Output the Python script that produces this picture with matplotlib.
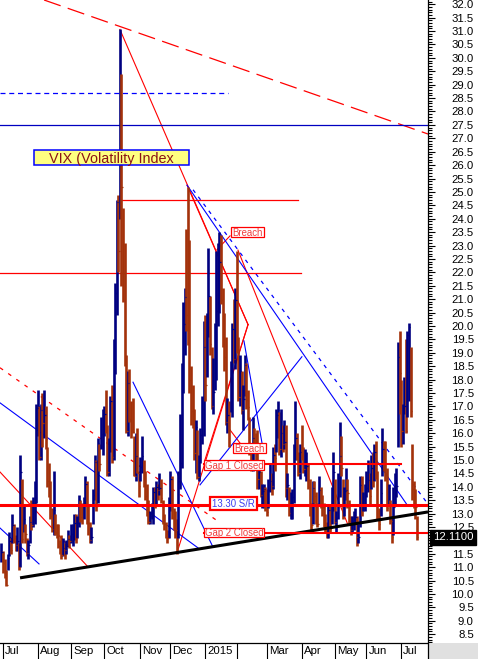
import numpy as np
import matplotlib.pyplot as plt
import matplotlib.transforms as mtransforms
from matplotlib.patches import Rectangle
from matplotlib.lines import Line2D

plt.rcParams['font.family'] = ['Liberation Sans', 'DejaVu Sans']

# daily VIX bars (high, low, close), one list per month
jun14 = [(11.9, 11.2, 11.57)]
jul14 = [(11.6, 10.8, 11.15), (11.3, 10.6, 10.82), (10.9, 10.28, 10.32), (11.5, 10.9, 11.33), (12.3, 11.4, 11.98),
         (12.1, 11.5, 11.65), (13.0, 11.9, 12.59), (12.6, 11.9, 12.08), (12.2, 11.6, 11.82), (12.5, 11.6, 11.96),
         (11.9, 10.9, 11.00), (15.2, 11.0, 14.54), (14.3, 11.9, 12.06), (13.3, 12.3, 12.81), (12.6, 11.9, 12.24),
         (12.1, 11.4, 11.52), (12.0, 11.3, 11.84), (12.9, 11.9, 12.69), (13.5, 12.4, 12.56), (13.6, 12.5, 13.28),
         (14.2, 12.6, 13.33), (17.1, 13.4, 16.95)]
aug14 = [(17.6, 15.9, 17.03), (17.0, 15.0, 15.12), (17.1, 15.0, 16.87), (17.5, 15.5, 16.37), (17.6, 15.8, 16.66),
         (17.0, 15.4, 15.77), (15.5, 14.0, 14.23), (14.9, 13.6, 14.13), (14.2, 12.8, 12.90), (13.2, 12.3, 12.42),
         (14.6, 12.2, 13.15), (13.0, 12.2, 12.32), (12.6, 12.1, 12.21), (12.6, 11.7, 11.78), (12.0, 11.5, 11.76),
         (12.2, 11.3, 11.47), (12.1, 11.4, 11.70), (11.9, 11.3, 11.63), (12.0, 11.5, 11.78), (12.4, 11.8, 12.05),
         (12.2, 11.7, 11.98)]
sep14 = [(12.6, 11.9, 12.25), (12.6, 11.8, 12.36), (13.0, 12.0, 12.64), (13.0, 11.9, 12.09), (12.9, 12.1, 12.66),
         (13.7, 12.5, 13.50), (13.5, 12.7, 12.88), (13.4, 12.6, 12.80), (13.6, 12.8, 13.31), (14.4, 13.3, 14.12),
         (14.2, 12.6, 12.73), (13.3, 12.2, 12.65), (12.7, 11.9, 12.03), (12.5, 11.9, 12.11), (13.9, 12.6, 13.69),
         (15.2, 13.5, 14.93), (15.0, 13.1, 13.27), (15.8, 13.4, 15.64), (15.6, 14.6, 14.85), (16.6, 15.4, 15.98),
         (16.9, 15.2, 16.31)]
oct14 = [(17.0, 15.9, 16.71), (17.6, 16.0, 16.16), (16.3, 14.4, 14.55), (15.8, 14.4, 15.46), (17.4, 15.3, 17.20),
         (17.8, 14.9, 15.11), (19.5, 15.0, 18.76), (21.6, 18.2, 21.24), (24.7, 20.4, 24.64), (24.9, 22.0, 22.79),
         (31.06, 24.0, 26.25), (29.4, 21.5, 25.20), (24.4, 20.9, 21.99), (23.1, 18.5, 18.57), (18.9, 16.0, 16.08),
         (18.3, 15.9, 17.87), (18.4, 16.4, 16.53), (17.2, 15.8, 16.11), (17.3, 16.0, 16.04), (15.9, 14.4, 14.39),
         (16.0, 14.2, 15.15), (16.2, 14.5, 14.52), (14.6, 13.6, 14.03)]
nov14 = [(15.1, 14.2, 14.73), (15.9, 14.5, 15.14), (15.0, 14.0, 14.17), (14.6, 13.5, 13.67), (14.1, 12.9, 13.12),
         (13.5, 12.6, 12.67), (13.1, 12.6, 12.92), (13.4, 12.8, 13.02), (14.0, 12.6, 13.79), (14.0, 13.2, 13.31),
         (14.2, 13.3, 13.99), (14.1, 13.5, 13.86), (14.5, 13.7, 13.96), (14.3, 13.4, 13.58), (13.5, 12.6, 12.90),
         (13.0, 12.4, 12.62), (12.7, 12.1, 12.25), (12.4, 11.9, 12.07), (13.6, 12.1, 13.33)]
dec14 = [(14.6, 13.1, 14.29), (14.4, 12.8, 12.85), (13.2, 12.4, 12.47), (13.1, 12.1, 12.38), (12.8, 11.5, 11.82),
         (14.6, 12.1, 14.21), (16.7, 13.9, 14.89), (18.6, 14.7, 18.53), (20.9, 17.5, 20.08), (21.4, 18.9, 21.08),
         (23.6, 19.8, 20.42), (25.2, 19.3, 19.44), (23.2, 17.5, 17.98), (18.5, 16.3, 16.81), (17.8, 16.2, 16.49),
         (16.9, 15.0, 15.25), (16.5, 14.5, 16.22), (16.1, 14.3, 14.37), (15.2, 14.2, 14.50), (16.2, 14.9, 15.92),
         (17.4, 15.6, 16.91), (20.2, 15.9, 19.20)]
jan15 = [(20.4, 17.2, 17.79), (20.5, 18.1, 19.92), (22.9, 19.6, 21.12), (21.1, 18.9, 19.31), (19.2, 16.9, 17.01),
         (18.8, 16.7, 17.55), (20.1, 17.6, 19.60), (22.8, 18.0, 20.56), (23.1, 20.0, 21.48), (23.5, 20.5, 22.39),
         (23.4, 20.8, 20.95), (21.4, 19.2, 19.89), (20.5, 18.3, 18.85), (19.6, 16.3, 16.40), (17.3, 16.0, 16.66),
         (17.2, 15.5, 15.52), (18.7, 16.8, 17.22), (20.1, 16.6, 19.89), (21.0, 18.6, 18.76), (21.4, 18.4, 20.97)]
feb15 = [(22.8, 19.0, 19.43), (19.6, 17.2, 17.33), (18.9, 17.0, 18.33), (18.3, 16.7, 16.85), (17.8, 16.1, 17.29),
         (18.9, 17.4, 18.55), (18.6, 16.9, 17.23), (17.6, 16.5, 16.96), (16.6, 15.2, 15.34), (15.6, 14.6, 14.69),
         (16.6, 14.6, 15.80), (16.2, 15.3, 15.45), (16.0, 15.0, 15.29), (16.1, 13.9, 14.30), (14.9, 13.9, 14.56),
         (14.6, 13.6, 13.69), (14.1, 13.2, 13.84), (14.1, 13.2, 13.91), (14.0, 13.1, 13.34)]
mar15 = [(13.9, 12.9, 13.04), (14.3, 13.2, 13.86), (14.9, 13.8, 14.23), (14.5, 13.7, 14.04), (15.5, 13.9, 15.20),
         (15.6, 14.6, 15.06), (16.9, 15.3, 16.69), (17.2, 15.8, 16.87), (16.8, 15.2, 15.42), (16.9, 15.1, 16.00),
         (16.3, 15.3, 15.61), (16.5, 15.4, 15.66), (16.3, 13.6, 13.97), (14.5, 13.5, 14.07), (14.0, 12.9, 13.02),
         (13.8, 12.8, 13.41), (13.9, 12.8, 13.62), (15.6, 13.4, 15.44), (17.2, 15.0, 15.80), (16.0, 15.0, 15.07),
         (15.3, 14.4, 14.51), (15.6, 14.3, 15.29)]
apr15 = [(16.3, 15.0, 15.11), (15.5, 14.5, 14.67), (15.4, 14.4, 14.74), (15.3, 14.2, 14.78), (14.9, 13.9, 13.98),
         (14.3, 12.9, 13.09), (13.4, 12.4, 12.58), (14.2, 12.6, 13.94), (14.2, 13.4, 13.67), (13.8, 12.6, 12.84),
         (13.4, 12.5, 12.60), (14.4, 13.3, 13.89), (14.0, 13.2, 13.30), (13.7, 12.9, 13.25), (13.4, 12.5, 12.71),
         (13.0, 12.3, 12.48), (12.7, 12.1, 12.29), (13.3, 12.1, 13.12), (13.3, 12.3, 12.41), (14.0, 12.6, 13.39),
         (15.3, 13.1, 14.55)]
may15 = [(14.3, 12.6, 12.70), (13.1, 12.3, 12.85), (14.5, 12.8, 14.31), (16.4, 13.6, 15.15), (15.9, 14.4, 14.71),
         (14.3, 12.8, 12.86), (14.0, 12.9, 13.85), (14.7, 13.5, 13.86), (14.3, 13.2, 13.76), (13.5, 12.6, 12.74),
         (12.9, 12.2, 12.38), (12.9, 12.3, 12.73), (13.1, 12.4, 12.85), (13.2, 12.6, 12.88), (12.9, 11.8, 12.11),
         (12.6, 11.9, 12.13), (14.4, 12.5, 14.06), (14.4, 12.9, 13.27), (13.8, 13.1, 13.31), (14.1, 13.1, 13.84)]
jun15 = [(14.6, 13.6, 13.97), (15.0, 13.8, 14.24), (14.5, 13.3, 13.66), (15.2, 13.9, 14.71), (15.3, 14.0, 14.21),
         (15.6, 14.2, 15.29), (15.7, 14.3, 14.47), (14.6, 12.8, 12.85), (13.2, 12.4, 12.61), (14.3, 12.9, 13.78),
         (16.2, 14.4, 15.39), (15.7, 14.6, 14.81), (15.7, 14.2, 14.50), (14.7, 13.1, 13.19), (14.1, 13.3, 13.96),
         (13.5, 12.6, 12.74), (12.9, 11.9, 12.11), (14.0, 12.2, 13.26), (14.5, 13.3, 14.01), (14.7, 13.6, 14.02),
         (19.4, 15.5, 18.85), (19.8, 16.7, 18.23)]
jul15 = [(18.0, 15.5, 16.09), (17.1, 15.6, 16.79), (18.1, 16.7, 17.01), (19.5, 16.0, 16.09), (19.8, 16.6, 19.66),
         (20.1, 17.2, 19.97), (19.2, 16.6, 16.83), (15.6, 13.5, 13.90), (14.2, 13.2, 13.37), (13.9, 12.8, 13.23),
         (12.9, 12.0, 12.11)]

months = [jul14, aug14, sep14, oct14, nov14, dec14, jan15, feb15, mar15, apr15, may15, jun15, jul15]
month_labels = ['Jul', 'Aug', 'Sep', 'Oct', 'Nov', 'Dec', '2015', '', 'Mar', 'Apr', 'May', 'Jun', 'Jul']
last_value = 12.11

# hand drawn studies: (x0, y0, x1, y1) in trading-day index / VIX value
red_lines = [(74, 31.06, 155.1, 20.05), (116.5, 25.25, 155.1, 20.05), (110.1, 11.53, 155.1, 20.05),
             (155.1, 20.05, 127.8, 15.0), (148.7, 22.83, 218.4, 12.57), (-1.9, 14.55, 53.8, 11.01),
             (135.4, 22.84, 143.7, 23.36), (143.7, 16.12, 150.0, 15.63)]
red_dashed = [(26.0, 32.16, 269.0, 27.16)]
red_dotted = [(-1.9, 18.44, 137.3, 12.66)]
blue_lines = [(116.5, 25.25, 255.7, 13.33), (-1.9, 17.13, 123.4, 11.72), (82.3, 17.9, 132.9, 11.75),
              (-1.9, 12.46, 22.8, 11.12), (124.7, 14.07, 189.2, 18.85), (152.5, 19.44, 164.6, 15.41)]
blue_dotted = [(120.3, 25.08, 268.4, 13.40)]
support_line = (10.8, 10.60, 269.0, 13.06)
levels = {'dash_28_7': (28.69, -1.9, 142.4), 'line_27_5': (27.5, -1.9, 269.0), 'line_24_7': (24.70, 74.0, 186.7),
          'line_22_0': (21.98, -1.9, 188.6), 'sr': (13.33, -1.9, 269.0), 'gap1': (14.85, 127.2, 251.9),
          'gap2': (12.28, 127.2, 269.0)}

bars = np.array(jun14 + sum(months, []))
hi, lo, cl = bars[:, 0], bars[:, 1], bars[:, 2]
x = np.arange(len(bars)) - 1
up = np.r_[True, cl[1:] >= cl[:-1]]
navy = '#000080'
brown = '#A3320B'
cols = [navy if u else brown for u in up]

month_start = np.cumsum([0] + [len(m) for m in months[:-1]])

fig = plt.figure(figsize=(4.78, 6.59), dpi=100, facecolor='white')
ax = fig.add_axes([0, 16 / 659, 428 / 478, 643 / 659])

# studies behind the bars
for x0, y0, x1, y1 in red_dashed:
    ax.plot([x0, x1], [y0, y1], color='red', lw=0.9, dashes=(14, 6), zorder=1)
for x0, y0, x1, y1 in red_dotted:
    ax.plot([x0, x1], [y0, y1], color='red', lw=0.9, dashes=(3, 5), zorder=1)
for x0, y0, x1, y1 in blue_dotted:
    ax.plot([x0, x1], [y0, y1], color='blue', lw=0.9, dashes=(3, 4), zorder=1)
for x0, y0, x1, y1 in red_lines:
    ax.plot([x0, x1], [y0, y1], color='red', lw=0.8, zorder=1)
for x0, y0, x1, y1 in blue_lines:
    ax.plot([x0, x1], [y0, y1], color='blue', lw=0.8, zorder=1)

v, a, b = levels['dash_28_7']
ax.plot([a, b], [v, v], color='blue', lw=0.9, dashes=(4, 3), zorder=1)
v, a, b = levels['line_27_5']
ax.plot([a, b], [v, v], color='#0000C0', lw=0.9, zorder=1)
for k in ['line_24_7', 'line_22_0']:
    v, a, b = levels[k]
    ax.plot([a, b], [v, v], color='red', lw=0.9, zorder=1)

# the bars
ax.vlines(x, lo, hi, colors=cols, lw=1.9, zorder=2)
ax.hlines(cl, x, x + 0.9, colors=cols, lw=0.9, zorder=2)

# support / resistance on top
ax.plot(support_line[::2], support_line[1::2], color='black', lw=2.2, zorder=3, solid_capstyle='butt')
v, a, b = levels['sr']
ax.plot([a, b], [v, v], color='red', lw=2.2, zorder=3)
for k in ['gap1', 'gap2']:
    v, a, b = levels[k]
    ax.plot([a, b], [v, v], color='red', lw=1.5, zorder=3)


def label_box(x0, x1, y0, y1, text, tcolor, ecolor, elw, fc='white', fs=6.9):
    ax.add_patch(Rectangle((x0, y0), x1 - x0, y1 - y0, fc=fc, ec=ecolor, lw=elw, zorder=4))
    ax.text((x0 + x1) / 2, (y0 + y1) / 2, text, color=tcolor, fontsize=fs, ha='center', va='center_baseline', zorder=5)


label_box(19.6, 117.7, 26.01, 26.57, 'VIX (Volatility Index', '#8B1414', 'blue', 1.1, fc='#FFFF80', fs=10.4)
label_box(144.1, 165.2, 23.32, 23.69, 'Breach', '#F03C3C', 'red', 0.9)
label_box(145.4, 166.5, 15.27, 15.65, 'Breach', '#F03C3C', 'red', 0.9)
label_box(127.2, 165.2, 14.63, 15.0, 'Gap 1 Closed', '#F03C3C', 'red', 0.9)
label_box(127.2, 165.2, 12.13, 12.46, 'Gap 2 Closed', '#F03C3C', 'red', 0.9)
label_box(131.0, 160.8, 13.13, 13.62, '13.30 S/R', '#3C3CF0', 'red', 1.6)

ax.set_xlim(-1.9, 269)
ax.set_ylim(8.17, 32.16)

# right price scale (12.0 sits under the last price flag)
yt = np.arange(8.5, 32.01, 0.5)
ax.yaxis.tick_right()
ax.set_yticks(yt)
ax.set_yticks(np.arange(8.2, 32.15, 0.1), minor=True)
ax.set_yticklabels(['' if abs(t - 12.0) < 0.01 else '%.1f' % t for t in yt])
ax.tick_params(axis='y', which='major', length=5, width=0.8, direction='out', pad=28, labelsize=8.2)
ax.tick_params(axis='y', which='minor', length=2.9, width=0.8, direction='out')
for t in ax.yaxis.get_major_ticks():
    t.label2.set_horizontalalignment('right')

# month axis
ax.set_xticks(month_start)
ax.set_xticklabels([''] * len(month_start))
ax.tick_params(axis='x', length=11.5, width=0.8, direction='out', color='black')
trans = mtransforms.blended_transform_factory(ax.transData, ax.transAxes)
for p, lab in zip(month_start, month_labels):
    ax.text(p + 1.3, -0.0125, lab, transform=trans, ha='left', va='center', fontsize=8.2, clip_on=False)

for s in ['top', 'left']:
    ax.spines[s].set_visible(False)
for s in ['bottom', 'right']:
    ax.spines[s].set_linewidth(0.9)

fig.patches.append(Rectangle((428 / 478, 0), 50 / 478, 16 / 659, transform=fig.transFigure,
                             fc='#E0E0E0', ec='none', zorder=0))
fig.lines.append(Line2D([428 / 478, 428 / 478], [0, 16 / 659], transform=fig.transFigure, color='black', lw=0.9))

# last price flag
ytrans = mtransforms.blended_transform_factory(ax.transAxes, ax.transData)
ax.text(1.012, last_value, '12.1100', transform=ytrans, color='white', fontsize=8.2, ha='left', va='center',
        clip_on=False, zorder=6, bbox=dict(boxstyle='square,pad=0.25', fc='black', ec='black'))

fig.savefig('out.png', dpi=100)
